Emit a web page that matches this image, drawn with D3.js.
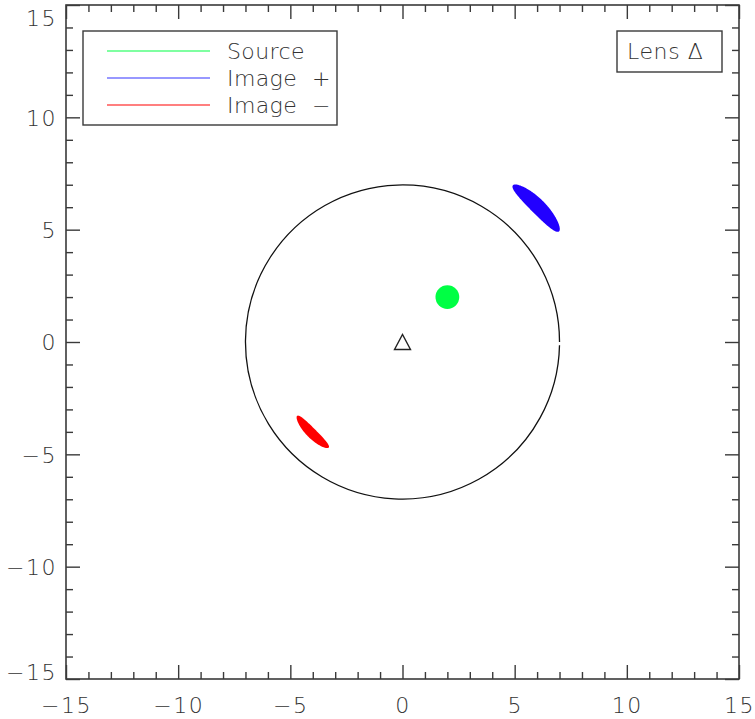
<!DOCTYPE html>
<html>
<head>
<meta charset="utf-8">
<script src="https://cdn.jsdelivr.net/npm/d3@7"></script>
<style>
  html, body { margin: 0; padding: 0; background: #fff; }
  svg { display: block; }
  text { font-family: "DejaVu Sans", "Liberation Sans", sans-serif; font-weight: 200; fill: #333; white-space: pre; }
</style>
</head>
<body>
<svg id="chart" width="755" height="719"></svg>
<script>
// ---------- data ----------
const axisMajorTicks = [-15, -10, -5, 0, 5, 10, 15];
const axisMinorTicks = d3.range(-15, 16, 1);
const axisDomain = [-15, 15];

const einsteinRadius = 7;

const sourceX = [2];
const sourceY = [2];
const sourceRadius = [0.53];

const imageNames = ["Image +", "Image \u2212"];
const imageR = [8.53, 5.73];          // radial distance of image centre
const imagePhi = [45, 225];           // polar angle of image centre (deg)
const imageHalfAngle = [9.8, 10.0];   // tangential half-extent (deg)
const imageHalfWidth = [0.33, 0.22];  // radial half-thickness
const imageColors = ["#2200ff", "#ff0000"];

const lensX = [0];
const lensY = [0];

const legendLabels = ["Source", "Image  +", "Image  \u2212"];
const legendColors = ["#00ff44", "#3333ff", "#ff0000"];
const lensLabel = "Lens \u0394";

// ---------- layout ----------
const svg = d3.select("#chart");
const x = d3.scaleLinear().domain(axisDomain).range([66, 739]);
const y = d3.scaleLinear().domain(axisDomain).range([679, 5]);
const axisColor = "#3a3a3a";
const fontSize = 22;

// frame
svg.append("rect")
  .attr("x", x(-15)).attr("y", y(15))
  .attr("width", x(15) - x(-15)).attr("height", y(-15) - y(15))
  .attr("fill", "none").attr("stroke", axisColor).attr("stroke-width", 1.6);

function tickLayer(axisGen, transform, major) {
  const g = svg.append("g").attr("transform", transform).call(axisGen);
  g.select(".domain").remove();
  g.selectAll(".tick line").attr("stroke", axisColor).attr("stroke-width", 1.4);
  if (!major) g.selectAll(".tick text").remove();
  return g;
}

const minorVals = axisMinorTicks.filter(v => axisMajorTicks.indexOf(v) < 0);
const minorLen = 7, majorLen = 14;

// minor ticks on all sides
tickLayer(d3.axisBottom(x).tickValues(minorVals).tickSizeInner(-minorLen).tickSizeOuter(0).tickFormat(""), `translate(0,${y(-15)})`, false);
tickLayer(d3.axisTop(x).tickValues(minorVals).tickSizeInner(-minorLen).tickSizeOuter(0).tickFormat(""), `translate(0,${y(15)})`, false);
tickLayer(d3.axisLeft(y).tickValues(minorVals).tickSizeInner(-minorLen).tickSizeOuter(0).tickFormat(""), `translate(${x(-15)},0)`, false);
tickLayer(d3.axisRight(y).tickValues(minorVals).tickSizeInner(-minorLen).tickSizeOuter(0).tickFormat(""), `translate(${x(15)},0)`, false);

// major ticks (labels on bottom / left)
const fmt = d => d3.format("d")(d);
const gb = tickLayer(d3.axisBottom(x).tickValues(axisMajorTicks).tickSizeInner(-majorLen).tickSizeOuter(0).tickPadding(18).tickFormat(fmt), `translate(0,${y(-15)})`, true);
tickLayer(d3.axisTop(x).tickValues(axisMajorTicks).tickSizeInner(-majorLen).tickSizeOuter(0).tickFormat(""), `translate(0,${y(15)})`, false);
const gl = tickLayer(d3.axisLeft(y).tickValues(axisMajorTicks).tickSizeInner(-majorLen).tickSizeOuter(0).tickPadding(9).tickFormat(fmt), `translate(${x(-15)},0)`, true);
tickLayer(d3.axisRight(y).tickValues(axisMajorTicks).tickSizeInner(-majorLen).tickSizeOuter(0).tickFormat(""), `translate(${x(15)},0)`, false);

[gb, gl].forEach(g => g.selectAll(".tick text")
  .attr("font-family", "DejaVu Sans, Liberation Sans, sans-serif")
  .attr("font-size", fontSize).attr("font-weight", 200).attr("fill", "#333")
  .attr("letter-spacing", 1.5));
// keep extreme y labels inside the frame
gl.selectAll(".tick text").attr("dy", d => d === 15 ? "0.95em" : d === -15 ? "0.02em" : "0.36em");

// Einstein ring (drawn as an almost-closed path)
const ring = d3.path();
const r0px = x(einsteinRadius) - x(0);
ring.arc(x(0), y(0), r0px, 0.02, 2 * Math.PI, false);
svg.append("path").attr("d", ring.toString())
  .attr("fill", "none").attr("stroke", "#111").attr("stroke-width", 1.3);

// images (curved ellipses around the lens)
const ts = d3.range(0, 2 * Math.PI, Math.PI / 90);
const line = d3.line().x(d => x(d[0])).y(d => y(d[1])).curve(d3.curveLinearClosed);
imageNames.forEach((name, i) => {
  const pts = ts.map(t => {
    const r = imageR[i] + imageHalfWidth[i] * Math.cos(t);
    const phi = (imagePhi[i] + imageHalfAngle[i] * Math.sin(t)) * Math.PI / 180;
    return [r * Math.cos(phi), r * Math.sin(phi)];
  });
  svg.append("path").attr("d", line(pts)).attr("fill", imageColors[i]).attr("stroke", "none");
});

// source
svg.selectAll("circle.source").data(sourceX).join("circle")
  .attr("class", "source")
  .attr("cx", (d, i) => x(sourceX[i])).attr("cy", (d, i) => y(sourceY[i]))
  .attr("r", (d, i) => x(sourceRadius[i]) - x(0))
  .attr("fill", "#00ff44");

// lens marker (open triangle)
lensX.forEach((lx, i) => {
  const cx = x(lx), cy = y(lensY[i]);
  const p = d3.path();
  p.moveTo(cx - 8, cy + 7.5); p.lineTo(cx, cy - 7.5); p.lineTo(cx + 8, cy + 7.5); p.closePath();
  svg.append("path").attr("d", p.toString()).attr("fill", "none")
    .attr("stroke", "#222").attr("stroke-width", 1.4).attr("stroke-linejoin", "miter");
});

// legend
const lg = svg.append("g");
lg.append("rect").attr("x", 83).attr("y", 31).attr("width", 254).attr("height", 94)
  .attr("fill", "#fff").attr("stroke", axisColor).attr("stroke-width", 1.4);
legendLabels.forEach((lab, i) => {
  const yy = 51 + i * 27;
  lg.append("line").attr("x1", 107).attr("x2", 210).attr("y1", yy).attr("y2", yy)
    .attr("stroke", legendColors[i]).attr("stroke-width", 1.2);
  lg.append("text").attr("x", 227).attr("y", yy + 8)
    .attr("font-size", fontSize).attr("letter-spacing", 0.4).text(lab);
});

// lens box
const lb = svg.append("g");
lb.append("rect").attr("x", 617).attr("y", 31).attr("width", 105).attr("height", 41)
  .attr("fill", "#fff").attr("stroke", axisColor).attr("stroke-width", 1.4);
lb.append("text").attr("x", 627).attr("y", 59).attr("font-size", fontSize)
  .attr("letter-spacing", 0.6).text(lensLabel);
</script>
</body>
</html>
